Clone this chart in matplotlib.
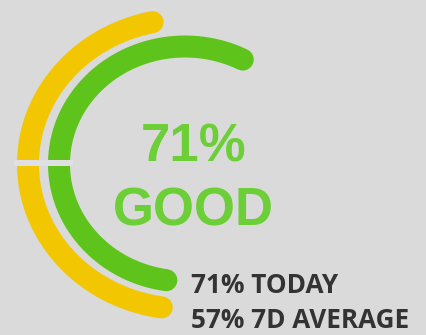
import numpy as np
import matplotlib
matplotlib.use("Agg")
import matplotlib.pyplot as plt

# Gauge values (percent)
today_pct = 71
avg_7d_pct = 57
status = "GOOD"
series_names = ["TODAY", "7D AVERAGE"]
series_values = [today_pct, avg_7d_pct]

W, H, DPI = 426, 335, 100
BG = "#dadada"
GREEN = "#5ec41c"
YELLOW = "#f2c600"
TEXT_GREEN = "#6ccf37"
DARK = "#333333"

# ring geometry in pixel units
CX, CY = 185, 164
START_DEG = 261.5      # just past six o'clock, running clockwise
SWEEP_DEG = 280        # sweep that corresponds to 100 %
RINGS = {"TODAY": (126, 117.5, GREEN), "7D AVERAGE": (157, 145, YELLOW)}
PX = 72 / DPI          # points per pixel

fig = plt.figure(figsize=(W / DPI, H / DPI), dpi=DPI, facecolor=BG)
ax = fig.add_axes([0, 0, 1, 1])
ax.set_facecolor(BG)
ax.set_xlim(0, W)
ax.set_ylim(H, 0)
ax.axis("off")

for name, val in zip(series_names, series_values):
    rx, ry, col = RINGS[name]
    th = np.radians(np.linspace(START_DEG, START_DEG - SWEEP_DEG * val / 100, 400))
    ax.plot(CX + rx * np.cos(th), CY - ry * np.sin(th), color=col,
            lw=22 * PX, solid_capstyle="round", zorder=2)

# thin separator across the rings at nine o'clock
ax.plot([14, 73], [CY - 1.5, CY - 1.5], color="#e0e0e4", lw=6 * PX,
        solid_capstyle="butt", zorder=3)

big = dict(family="Liberation Sans", weight="bold", fontsize=38,
           color=TEXT_GREEN, ha="center", va="baseline")
ax.text(194, 162, f"{today_pct}%", **big)
ax.text(193, 225, status, **big)

small = dict(family="Open Sans", weight="bold", fontsize=18.8, color=DARK,
             ha="left", va="baseline")
ax.text(191, 293, f"{today_pct}% {series_names[0]}", **small)
ax.text(191, 328, f"{avg_7d_pct}% {series_names[1]}", **small)

fig.savefig("out.png", dpi=DPI, facecolor=BG)
